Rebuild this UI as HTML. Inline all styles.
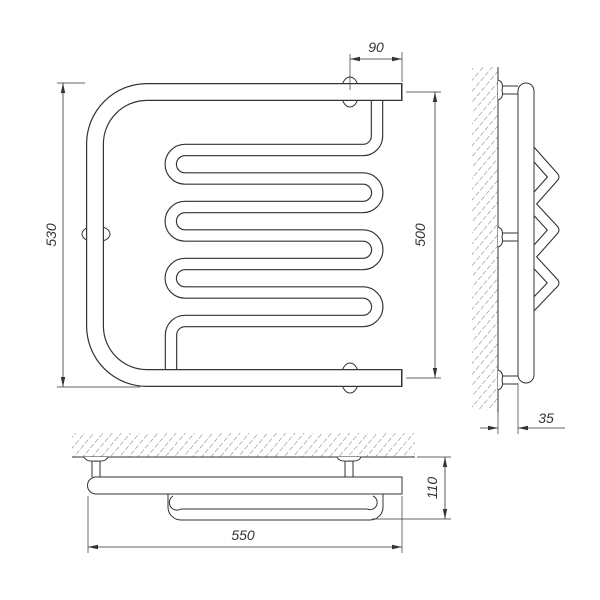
<!DOCTYPE html>
<html><head><meta charset="utf-8"><style>
html,body{margin:0;padding:0;background:#fff;}
svg{display:block;}
text{font-family:"Liberation Sans",sans-serif;font-style:italic;font-size:14px;fill:#333;}
</style></head><body>
<svg width="600" height="600" viewBox="0 0 600 600" xmlns="http://www.w3.org/2000/svg">
<defs>
<marker id="ar" viewBox="0 0 10 6" refX="10" refY="3" markerWidth="10" markerHeight="6" orient="auto-start-reverse" markerUnits="userSpaceOnUse"><path d="M0,0.8 L10,3 L0,5.2z" fill="#333"/></marker>
<pattern id="hatch" width="7" height="7" patternUnits="userSpaceOnUse" patternTransform="rotate(40)">
<line x1="0" y1="0" x2="0" y2="5" stroke="#777" stroke-width="1"/>
</pattern>
</defs>
<g fill="none" stroke="#333" stroke-width="1">
<ellipse cx="350" cy="92" rx="9" ry="15" fill="#fff"/>
<ellipse cx="350" cy="378" rx="9" ry="15" fill="#fff"/>
<ellipse cx="96" cy="234" rx="14" ry="8" fill="#fff"/>
<path d="M377,100 L377,136 A14,14 0 0 1 363,150 L185,150 A14.25,14.25 0 0 0 185,178.5 L363,178.5 A14.25,14.25 0 0 1 363,207 L185,207 A14.25,14.25 0 0 0 185,235.5 L363,235.5 A14.25,14.25 0 0 1 363,264 L185,264 A14.25,14.25 0 0 0 185,292.5 L363,292.5 A14.25,14.25 0 0 1 363,321 L185,321 A14,14 0 0 0 171,335 L171,372" stroke="#333" stroke-width="12.5" stroke-linecap="round"/>
<path d="M377,100 L377,136 A14,14 0 0 1 363,150 L185,150 A14.25,14.25 0 0 0 185,178.5 L363,178.5 A14.25,14.25 0 0 1 363,207 L185,207 A14.25,14.25 0 0 0 185,235.5 L363,235.5 A14.25,14.25 0 0 1 363,264 L185,264 A14.25,14.25 0 0 0 185,292.5 L363,292.5 A14.25,14.25 0 0 1 363,321 L185,321 A14,14 0 0 0 171,335 L171,372" stroke="#fff" stroke-width="10.2" stroke-linecap="round"/>
<path d="M402,92 L147,92 A52,52 0 0 0 95,144 L95,326 A52,52 0 0 0 147,378 L402,378" stroke="#333" stroke-width="18"/>
<path d="M401,92 L147,92 A52,52 0 0 0 95,144 L95,326 A52,52 0 0 0 147,378 L401,378" stroke="#fff" stroke-width="15.6"/>
<line x1="402" y1="83" x2="402" y2="101"/>
<line x1="402" y1="369" x2="402" y2="387"/>
<line x1="85" y1="83" x2="57" y2="83" stroke-width="0.7"/>
<line x1="140" y1="387" x2="57" y2="387" stroke-width="0.7"/>
<line x1="63" y1="83" x2="63" y2="387" stroke-width="0.8" marker-start="url(#ar)" marker-end="url(#ar)"/>
<line x1="406" y1="92" x2="441" y2="92" stroke-width="0.7"/>
<line x1="406" y1="378" x2="441" y2="378" stroke-width="0.7"/>
<line x1="435" y1="92" x2="435" y2="378" stroke-width="0.8" marker-start="url(#ar)" marker-end="url(#ar)"/>
<line x1="350" y1="54" x2="350" y2="90" stroke-width="0.7"/>
<line x1="402" y1="52" x2="402" y2="82" stroke-width="0.7"/>
<line x1="350" y1="59" x2="402" y2="59" stroke-width="0.8" marker-start="url(#ar)" marker-end="url(#ar)"/>

<rect x="472" y="67" width="26" height="343" fill="url(#hatch)" stroke="none"/>
<line x1="498" y1="67" x2="498" y2="412"/>
<path d="M498,80 Q504,82 502,90 Q504,98 498,100" fill="#fff"/>
<path d="M498,227 Q504,229 502,237 Q504,245 498,247" fill="#fff"/>
<path d="M498,370 Q504,372 502,380 Q504,388 498,390" fill="#fff"/>
<line x1="502" y1="86" x2="518" y2="86"/><line x1="502" y1="94" x2="518" y2="94"/>
<line x1="502" y1="233" x2="518" y2="233"/><line x1="502" y1="241" x2="518" y2="241"/>
<line x1="502" y1="376" x2="518" y2="376"/><line x1="502" y1="384" x2="518" y2="384"/>
<polyline points="530,150 554,177 530,204 554,230 530,257 554,283 530,308" stroke="#333" stroke-width="11" stroke-linejoin="round" stroke-linecap="round"/>
<polyline points="530,150 554,177 530,204 554,230 530,257 554,283 530,308" stroke="#fff" stroke-width="8.8" stroke-linejoin="round" stroke-linecap="round"/>
<rect x="518" y="83" width="16" height="300" rx="8" fill="#fff"/>
<line x1="498" y1="412" x2="498" y2="434" stroke-width="0.7"/>
<line x1="518" y1="383" x2="518" y2="434" stroke-width="0.7"/>
<line x1="480" y1="428" x2="498" y2="428" stroke-width="0.8" marker-end="url(#ar)"/>
<line x1="565" y1="428" x2="518" y2="428" stroke-width="0.8" marker-end="url(#ar)"/>

<rect x="72" y="433" width="343" height="24" fill="url(#hatch)" stroke="none"/>
<line x1="72" y1="457" x2="415" y2="457"/>
<path d="M84,457 Q86,462 96,461 Q106,462 108,457" fill="#fff"/>
<path d="M337,457 Q339,462 349,461 Q359,462 361,457" fill="#fff"/>
<line x1="92" y1="461" x2="92" y2="477"/><line x1="100" y1="461" x2="100" y2="477"/>
<line x1="345" y1="461" x2="345" y2="477"/><line x1="353" y1="461" x2="353" y2="477"/>
<path d="M168,494 L168,507 A13,13 0 0 0 181,520 L370,520 A13,13 0 0 0 383,507 L383,494" fill="#fff"/>
<path d="M173,496 A6.5,6.5 0 0 0 181,509 L367,509 A6.5,6.5 0 0 0 373,496"/>
<path d="M96,477 L402,477 L402,494 L96,494 A8.5,8.5 0 0 1 96,477z" fill="#fff"/>
<line x1="88" y1="496" x2="88" y2="553" stroke-width="0.7"/>
<line x1="402" y1="496" x2="402" y2="553" stroke-width="0.7"/>
<line x1="88" y1="547" x2="402" y2="547" stroke-width="0.8" marker-start="url(#ar)" marker-end="url(#ar)"/>
<line x1="417" y1="457" x2="451" y2="457" stroke-width="0.7"/>
<line x1="372" y1="519" x2="451" y2="519" stroke-width="0.7"/>
<line x1="445" y1="457" x2="445" y2="519" stroke-width="0.8" marker-start="url(#ar)" marker-end="url(#ar)"/>
</g>
<text x="376" y="52" text-anchor="middle">90</text>
<text transform="translate(56,235) rotate(-90)" text-anchor="middle">530</text>
<text transform="translate(425,235) rotate(-90)" text-anchor="middle">500</text>
<text x="546" y="423" text-anchor="middle">35</text>
<text x="243" y="540" text-anchor="middle">550</text>
<text transform="translate(437,488) rotate(-90)" text-anchor="middle">110</text>
</svg>
</body></html>
